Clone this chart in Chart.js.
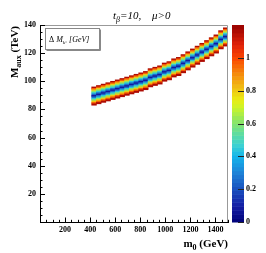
<!DOCTYPE html>
<html><head><meta charset="utf-8">
<script src="https://cdn.jsdelivr.net/npm/chart.js@4"></script>
<style>html,body{margin:0;padding:0;background:#fff;overflow:hidden}canvas{display:block}</style>
</head><body>
<canvas id="c" width="266" height="253"></canvas>
<script>
// ---- data ----
const m0Columns = [431.25,468.75,506.25,543.75,581.25,618.75,656.25,693.75,731.25,768.75,806.25,843.75,881.25,918.75,956.25,993.75,1031.25,1068.75,1106.25,1143.75,1181.25,1218.75,1256.25,1293.75,1331.25,1368.75,1406.25,1443.75,1481.25];
const bandCentre = [89.5,90.3,91.2,92.0,93.0,94.0,95.0,96.2,97.3,98.5,99.7,100.8,102.0,103.3,104.7,106.0,107.5,109.0,110.6,112.4,114.3,116.2,118.1,120.1,122.1,124.3,126.6,129.0,131.5];
// Delta M value of the cells across the band, from lowest cell to highest
const cellProfile = [1.17,0.98,0.8,0.62,0.44,0.26,0.08,0.26,0.44,0.62,0.8,0.98,1.17];
const yBin = 1.0;
const xTickLabels = [200,400,600,800,1000,1200,1400];
const yTickLabels = [20,40,60,80,100,120,140];
const zTickLabels = [0,0.2,0.4,0.6,0.8,1];
const zMax = 1.2, nLevels = 50;

const SERIF = "'Liberation Serif','Times New Roman',serif";
const stops = [
 [0.00,[0,0,120]],[0.10,[20,30,165]],[0.20,[25,80,190]],[0.30,[30,130,215]],
 [0.40,[20,180,235]],[0.47,[60,210,210]],[0.55,[100,222,150]],[0.63,[150,232,90]],
 [0.70,[205,245,40]],[0.75,[235,235,20]],[0.82,[240,190,20]],[0.90,[245,140,10]],
 [1.00,[250,70,0]],[1.08,[225,35,10]],[1.20,[150,0,0]]];
function paletteAt(v){
  for(let i=1;i<stops.length;i++){
    if(v<=stops[i][0]){const a=stops[i-1],b=stops[i];const t=(v-a[0])/(b[0]-a[0]);
      const c=a[1].map((x,k)=>Math.round(x+(b[1][k]-x)*t));return `rgb(${c[0]},${c[1]},${c[2]})`;}
  }
  const c=stops[stops.length-1][1];return `rgb(${c[0]},${c[1]},${c[2]})`;
}
function colourFor(v){
  let lvl=Math.min(nLevels-1,Math.max(0,Math.floor(v/zMax*nLevels)));
  return paletteAt((lvl+0.5)*zMax/nLevels);
}

const half = (cellProfile.length-1)/2;
const datasets = cellProfile.map((val,idx)=>({
  data: m0Columns.map((m,i)=>{const j=Math.floor(bandCentre[i]/yBin)+idx-half;return {x:m,y:[j*yBin,(j+1)*yBin]};}),
  backgroundColor: colourFor(val), borderWidth:0, grouped:false,
  barPercentage:1, categoryPercentage:1
}));

function drawParts(ctx,parts,x,y){
  let cx=x;
  for(const p of parts){ctx.font=p[1];ctx.fillText(p[0],cx,y+(p[2]||0));cx+=ctx.measureText(p[0]).width;}
  return cx-x;
}
function partsWidth(ctx,parts){let w=0;for(const p of parts){ctx.font=p[1];w+=ctx.measureText(p[0]).width;}return w;}

const decor = {
  id:'decor',
  afterDraw(chart){
    const ctx=chart.ctx, a=chart.chartArea, sx=chart.scales.x, sy=chart.scales.y, sz=chart.scales.z;
    ctx.save();
    ctx.strokeStyle='#999';ctx.lineWidth=1;
    ctx.beginPath();ctx.moveTo(a.left,a.top+0.5);ctx.lineTo(a.right-0.5,a.top+0.5);ctx.lineTo(a.right-0.5,a.bottom);ctx.stroke();
    ctx.strokeStyle='#000';ctx.beginPath();
    for(let v=0;v<=140;v+=5){const p=Math.round(sy.getPixelForValue(v))+0.5;const L=(v%20===0)?5:2.5;ctx.moveTo(a.left,p);ctx.lineTo(a.left+L,p);}
    for(let v=0;v<=1500;v+=50){const p=Math.round(sx.getPixelForValue(v))+0.5;const L=(v%200===0)?4.5:2.2;ctx.moveTo(p,a.bottom);ctx.lineTo(p,a.bottom-L);}
    ctx.stroke();
    const bx=a.right+4,bw=12;
    for(let i=0;i<nLevels;i++){
      const v0=i*zMax/nLevels,v1=(i+1)*zMax/nLevels;
      const y0=sz.getPixelForValue(v0),y1=sz.getPixelForValue(v1);
      ctx.fillStyle=paletteAt((i+0.5)*zMax/nLevels);
      ctx.fillRect(bx,y1,bw,y0-y1+0.5);
    }
    ctx.strokeStyle='#222';ctx.beginPath();
    for(const v of zTickLabels){const p=Math.round(sz.getPixelForValue(v))+0.5;ctx.moveTo(bx+bw,p);ctx.lineTo(bx+bw-6,p);}
    ctx.stroke();
    ctx.fillStyle='#000';ctx.textBaseline='alphabetic';ctx.textAlign='left';
    const bf=`bold 11px ${SERIF}`, bs=`bold 8px ${SERIF}`;
    const xt=[['m',bf,0],['0',bs,2.5],[' (GeV)',bf,0]];
    drawParts(ctx,xt,a.right-partsWidth(ctx,xt),247);
    const yt=[['M',bf,0],['aux',bs,2.5],[' (TeV)',bf,0]];
    const yw=partsWidth(ctx,yt);
    ctx.save();ctx.translate(18,a.top+1+yw);ctx.rotate(-Math.PI/2);drawParts(ctx,yt,0,0);ctx.restore();
    const it=`italic 11px ${SERIF}`, is=`italic 8px ${SERIF}`;
    drawParts(ctx,[['t',it,0],['β',is,2.5],['=10,',it,0]],113,19);
    drawParts(ctx,[['μ>0',it,0]],152,19);
    ctx.fillStyle='#fff';ctx.strokeStyle='#888';ctx.lineWidth=1;
    ctx.fillRect(45.5,28.5,54,21);ctx.strokeRect(45.5,28.5,54,21);
    ctx.beginPath();ctx.moveTo(46.5,50.5);ctx.lineTo(100.5,50.5);ctx.lineTo(100.5,29.5);ctx.stroke();
    ctx.fillStyle='#000';
    const lf=`8px ${SERIF}`, li=`italic 8px ${SERIF}`, ls=`italic 5px ${SERIF}`;
    drawParts(ctx,[['Δ ',lf,0],['M',li,0],['k°',ls,2],[' [GeV]',li,0]],49,42);
    ctx.restore();
  }
};

const tickFont={family:SERIF,size:8,weight:'bold'};
const plain = v => String(v);
new Chart(document.getElementById('c'),{
  type:'bar',
  data:{datasets},
  options:{
    responsive:false, animation:false, devicePixelRatio:1,
    layout:{padding:{top:25,left:0,right:0,bottom:0}},
    plugins:{legend:{display:false},tooltip:{enabled:false}},
    scales:{
      x:{type:'linear',min:0,max:1500,offset:false,
        grid:{display:false,drawTicks:false,offset:false},border:{display:true,color:'#000',width:1},
        ticks:{font:tickFont,color:'#000',padding:3,maxRotation:0,autoSkip:false,callback:plain},
        afterBuildTicks:s=>{s.ticks=xTickLabels.map(v=>({value:v}));},
        afterFit:s=>{s.height=31;}},
      y:{type:'linear',min:0,max:140,
        grid:{display:false,drawTicks:false},border:{display:true,color:'#000',width:1},
        ticks:{font:tickFont,color:'#000',padding:4,autoSkip:false,callback:plain},
        afterBuildTicks:s=>{s.ticks=yTickLabels.map(v=>({value:v}));},
        afterFit:s=>{s.width=40;}},
      z:{type:'linear',position:'right',min:0,max:zMax,
        grid:{display:false,drawTicks:false},border:{display:false},
        ticks:{font:tickFont,color:'#000',padding:18,autoSkip:false,callback:plain},
        afterBuildTicks:s=>{s.ticks=zTickLabels.map(v=>({value:v}));},
        afterFit:s=>{s.width=38;}}
    }
  },
  plugins:[decor]
});
</script>
</body></html>
